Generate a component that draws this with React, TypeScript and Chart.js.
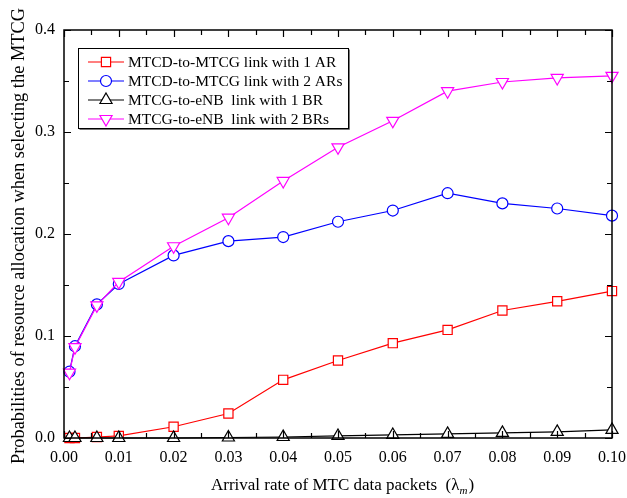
import React, { useEffect, useRef } from "react";
import { Chart, registerables } from "chart.js";

Chart.register(...registerables);

const xValues = [0.001, 0.002, 0.006, 0.01, 0.02, 0.03, 0.04, 0.05, 0.06, 0.07, 0.08, 0.09, 0.1];
const red1AR = [0.0, 0.0, 0.001, 0.002, 0.011, 0.024, 0.057, 0.076, 0.093, 0.106, 0.125, 0.134, 0.144];
const blue2AR = [0.065, 0.09, 0.131, 0.151, 0.179, 0.193, 0.197, 0.212, 0.223, 0.24, 0.23, 0.225, 0.218];
const black1BR = [0.0, 0.0, 0.0, 0.0, 0.0, 0.0005, 0.001, 0.002, 0.003, 0.004, 0.005, 0.006, 0.008];
const magenta2BR = [0.064, 0.089, 0.13, 0.153, 0.188, 0.216, 0.252, 0.285, 0.311, 0.34, 0.349, 0.353, 0.355];
const seriesLabels = [
  "MTCD-to-MTCG link with 1 AR",
  "MTCD-to-MTCG link with 2 ARs",
  "MTCG-to-eNB  link with 1 BR",
  "MTCG-to-eNB  link with 2 BRs",
];
const xTitle = "Arrival rate of MTC data packets  (λ";
const xTitleSub = "m";
const yTitle = "Probabilities of resource allocation when selecting the MTCG";
const FONT = "'Liberation Serif', 'Times New Roman', serif";

const toPts = (ys: number[]) => xValues.map((x, i) => ({ x, y: ys[i] }));

function drawMarker(ctx: CanvasRenderingContext2D, ds: any, x: number, y: number) {
  ctx.save();
  ctx.strokeStyle = ds.pointBorderColor;
  ctx.fillStyle = "#fff";
  ctx.lineWidth = 1.2;
  const r = ds.pointRadius;
  ctx.beginPath();
  if (ds.pointStyle === "rect") {
    const s = Math.SQRT1_2 * r;
    ctx.rect(x - s, y - s, 2 * s, 2 * s);
  } else if (ds.pointStyle === "circle") {
    ctx.arc(x, y, r, 0, Math.PI * 2);
  } else {
    const sign = ds.pointRotation === 180 ? -1 : 1;
    const a = (30 * Math.PI) / 180;
    ctx.moveTo(x, y - sign * r);
    ctx.lineTo(x + Math.cos(a) * r, y + sign * Math.sin(a) * r);
    ctx.lineTo(x - Math.cos(a) * r, y + sign * Math.sin(a) * r);
    ctx.closePath();
  }
  ctx.fill();
  ctx.stroke();
  ctx.restore();
}

const framePlugin = {
  id: "frame",
  afterDatasetsDraw(chart: any) {
    const { ctx, chartArea: a, scales } = chart;
    const xs = scales.x;
    const ys = scales.y;
    ctx.save();
    ctx.strokeStyle = "#000";
    ctx.lineWidth = 1.5;
    ctx.strokeRect(a.left, a.top, a.right - a.left, a.bottom - a.top);
    ctx.lineWidth = 1.2;
    for (let i = 0; i <= 20; i++) {
      const v = i * 0.005;
      const p = Math.round(xs.getPixelForValue(v)) + 0.5;
      const len = i % 2 === 0 ? 7 : 5;
      ctx.beginPath();
      ctx.moveTo(p, a.bottom);
      ctx.lineTo(p, a.bottom - len);
      ctx.moveTo(p, a.top);
      ctx.lineTo(p, a.top + len);
      ctx.stroke();
    }
    for (let i = 0; i <= 8; i++) {
      const v = i * 0.05;
      const p = Math.round(ys.getPixelForValue(v)) + 0.5;
      const len = i % 2 === 0 ? 7 : 5;
      ctx.beginPath();
      ctx.moveTo(a.left, p);
      ctx.lineTo(a.left + len, p);
      ctx.moveTo(a.right, p);
      ctx.lineTo(a.right - len, p);
      ctx.stroke();
    }
    ctx.restore();
  },
  afterDraw(chart: any) {
    const { ctx } = chart;
    ctx.save();
    const bx = 78, by = 48, bw = 270, bh = 80;
    ctx.fillStyle = "#fff";
    ctx.fillRect(bx, by, bw, bh);
    ctx.strokeStyle = "#000";
    ctx.lineWidth = 1;
    ctx.strokeRect(bx + 0.5, by + 0.5, bw, bh);
    ctx.strokeStyle = "#777";
    ctx.beginPath();
    ctx.moveTo(bx + 1.5, by + bh + 1.5);
    ctx.lineTo(bx + bw + 1.5, by + bh + 1.5);
    ctx.lineTo(bx + bw + 1.5, by + 1.5);
    ctx.stroke();
    const sets = [...chart.data.datasets].sort((p: any, q: any) => p.legendIndex - q.legendIndex);
    sets.forEach((ds: any, i: number) => {
      const cy = 62 + i * 19;
      ctx.strokeStyle = ds.borderColor;
      ctx.lineWidth = 1.2;
      ctx.beginPath();
      ctx.moveTo(88, cy);
      ctx.lineTo(124, cy);
      ctx.stroke();
      drawMarker(ctx, ds, 106, cy);
      ctx.fillStyle = "#000";
      ctx.font = `15.5px ${FONT}`;
      ctx.textBaseline = "middle";
      ctx.textAlign = "left";
      ctx.fillText(ds.label, 128, cy + 1);
    });
    ctx.fillStyle = "#000";
    ctx.font = `17px ${FONT}`;
    ctx.textBaseline = "alphabetic";
    ctx.textAlign = "left";
    const w1 = ctx.measureText(xTitle).width;
    ctx.font = `italic 11px ${FONT}`;
    const w2 = ctx.measureText(xTitleSub).width;
    ctx.font = `17px ${FONT}`;
    const w3 = ctx.measureText(")").width;
    const total = w1 + w2 + w3;
    const sx = 342 - total / 2;
    ctx.fillText(xTitle, sx, 490);
    ctx.font = `italic 11px ${FONT}`;
    ctx.fillText(xTitleSub, sx + w1, 494);
    ctx.font = `17px ${FONT}`;
    ctx.fillText(")", sx + w1 + w2 + 1, 490);
    ctx.translate(19, 236);
    ctx.rotate(-Math.PI / 2);
    ctx.textAlign = "center";
    ctx.textBaseline = "middle";
    ctx.font = `18.4px ${FONT}`;
    ctx.fillText(yTitle, 0, 0);
    ctx.restore();
  },
};

export default function App() {
  const ref = useRef<HTMLCanvasElement>(null);
  useEffect(() => {
    document.body.style.margin = "0";
    const mk = (label: string, ys: number[], color: string, style: string, radius: number, legendIndex: number, order: number, rot = 0) => ({
      label,
      data: toPts(ys),
      borderColor: color,
      pointBorderColor: color,
      pointBackgroundColor: "#fff",
      borderWidth: 1.2,
      pointBorderWidth: 1.2,
      pointStyle: style,
      pointRadius: radius,
      pointRotation: rot,
      clip: false as any,
      tension: 0,
      legendIndex,
      order,
    });
    const chart = new Chart(ref.current!, {
      type: "line",
      data: {
        datasets: [
          mk(seriesLabels[0], red1AR, "#ff0000", "rect", 6.5, 0, 3),
          mk(seriesLabels[1], blue2AR, "#0000ff", "circle", 5.5, 1, 2),
          mk(seriesLabels[2], black1BR, "#000000", "triangle", 7, 2, 1),
          mk(seriesLabels[3], magenta2BR, "#ff00ff", "triangle", 7, 3, 0, 180),
        ] as any,
      },
      options: {
        animation: false,
        responsive: false,
        layout: { padding: { left: 0, right: 15, top: 30, bottom: 0 } },
        plugins: { legend: { display: false }, tooltip: { enabled: false } },
        scales: {
          x: {
            type: "linear",
            min: 0,
            max: 0.1,
            grid: { display: false, drawTicks: false },
            border: { display: false },
            ticks: {
              stepSize: 0.01,
              padding: 10,
              color: "#000",
              font: { family: FONT, size: 16 },
              maxRotation: 0,
              autoSkip: false,
              callback: (v: any) => Number(v).toFixed(2),
            },
            afterFit: (s: any) => { s.height = 60; s.paddingLeft = 0; s.paddingRight = 0; },
          },
          y: {
            type: "linear",
            min: 0,
            max: 0.4,
            grid: { display: false, drawTicks: false },
            border: { display: false },
            ticks: {
              stepSize: 0.1,
              padding: 9,
              color: "#000",
              font: { family: FONT, size: 16 },
              callback: (v: any) => Number(v).toFixed(1),
            },
            afterFit: (s: any) => { s.width = 64; s.paddingTop = 0; s.paddingBottom = 0; },
          },
        },
      },
      plugins: [framePlugin],
    });
    return () => chart.destroy();
  }, []);
  return (
    <div style={{ position: "absolute", left: 0, top: 0, width: 627, height: 498, background: "#fff" }}>
      <canvas ref={ref} width={627} height={498} />
    </div>
  );
}
